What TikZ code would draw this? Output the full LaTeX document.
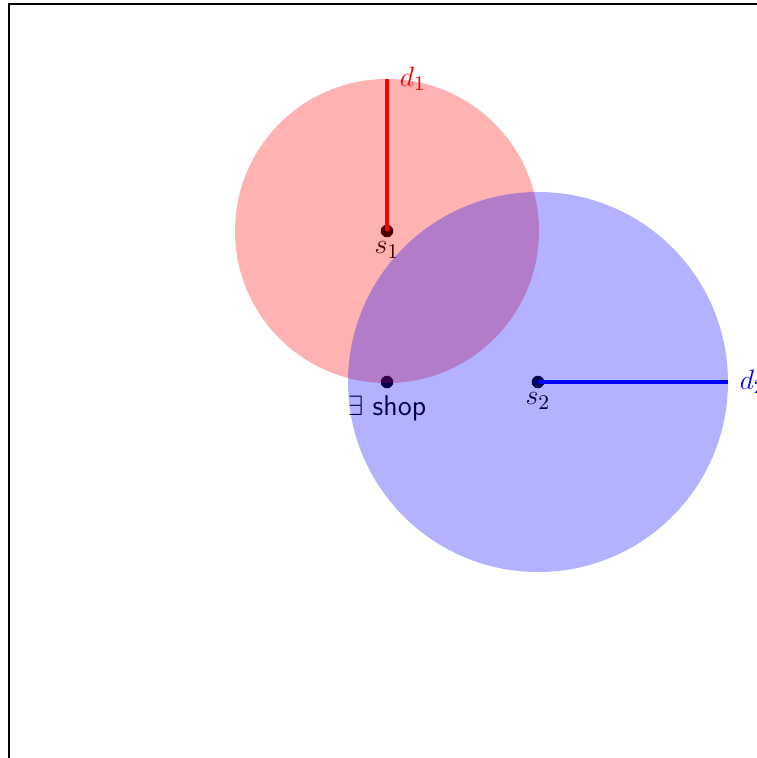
\documentclass[tikz,border=0pt]{standalone}
\begin{document}
\begin{tikzpicture}[x=0.43pt,y=-0.43pt,
  every node/.style={font=\fontsize{12.3}{14}\selectfont},
  dotpt/.style={circle,fill=black,inner sep=0pt,minimum size=5.4pt},
  lbl/.style={inner sep=1pt},
  redzone/.style={fill=red,fill opacity=0.3,draw=none},
  bluezone/.style={fill=blue,fill opacity=0.3,draw=none}]
\useasboundingbox (0,0) rectangle (757,758);
\clip (0,0) rectangle (757,758);
\draw[line width=0.9pt] (9,4) rectangle (765,760);
\coordinate (s1) at (387,231);
\coordinate (s2) at (538,382);
\coordinate (shop) at (387,382);
\coordinate (d1end) at (387,79);
\coordinate (d2end) at (728,382);
% points and labels (under the translucent discs)
\node[dotpt] (p1) at (s1) {};
\node[dotpt] (p2) at (s2) {};
\node[dotpt] (p3) at (shop) {};
\node[lbl,below] (l1) at (387,239) {$s_1$};
\node[lbl,below] (l2) at (538,390) {$s_2$};
\node[lbl,below] (l3) at (387,393) {\textsf{$\exists$ shop}};
% discs
\fill[redzone] (s1) circle (152);
\fill[bluezone] (s2) circle (190);
% radii
\draw[red,line width=1.6pt] (s1) -- (d1end);
\draw[blue,line width=1.6pt] (s2) -- (d2end);
\node[lbl,right,text=red] (ld1) at (397,79) {$d_1$};
\node[lbl,right,text=blue] (ld2) at (737,382) {$d_2$};
\end{tikzpicture}
\end{document}
